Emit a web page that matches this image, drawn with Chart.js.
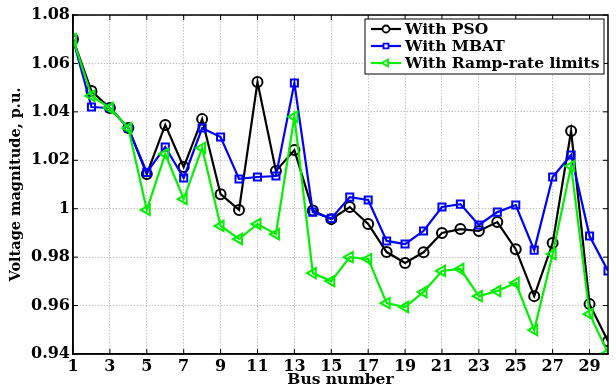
<!DOCTYPE html>
<html>
<head>
<meta charset="utf-8">
<script src="https://cdn.jsdelivr.net/npm/chart.js@4/dist/chart.umd.min.js"></script>
<style>
  html, body { margin: 0; padding: 0; background: #fff; }
  #wrap { width: 616px; height: 389px; }
</style>
</head>
<body>
<div id="wrap"><canvas id="voltChart"></canvas></div>
<script>
const buses = [1,2,3,4,5,6,7,8,9,10,11,12,13,14,15,16,17,18,19,20,21,22,23,24,25,26,27,28,29,30];
const psoVals = [1.070,1.0486,1.0416,1.0333,1.0143,1.0346,1.0172,1.0370,1.0060,0.9995,1.0523,1.0156,1.0242,0.9993,0.9957,1.0007,0.9937,0.9821,0.9776,0.9820,0.9900,0.9916,0.9908,0.9945,0.9833,0.9639,0.9858,1.0321,0.9606,0.9453];
const mbatVals = [1.070,1.0420,1.0416,1.0333,1.0150,1.0255,1.0127,1.0333,1.0296,1.0123,1.0131,1.0135,1.0519,0.9986,0.9960,1.0048,1.0036,0.9867,0.9854,0.9908,1.0007,1.0019,0.9933,0.9986,1.0015,0.9829,1.0131,1.0222,0.9887,0.9743];
const rampVals = [1.070,1.0466,1.0416,1.0333,0.9995,1.0226,1.0040,1.0251,0.9929,0.9875,0.9937,0.9895,1.0380,0.9734,0.9701,0.9800,0.9792,0.9610,0.9594,0.9656,0.9743,0.9751,0.9639,0.9660,0.9693,0.9499,0.9813,1.0176,0.9565,0.9404];
const xTicks = [1,3,5,7,9,11,13,15,17,19,21,23,25,27,29];
const seriesNames = ["With PSO", "With MBAT", "With Ramp-rate limits"];

const colors = ["#000000", "#0000ff", "#00f000"];
const shapes = ["circle", "rect", "triangle"];
const rotations = [0, 0, -90];
const serif = "'DejaVu Serif', serif";

function pts(vals) {
  return buses.map((b, i) => ({ x: b, y: vals[i] }));
}

function series(i, vals) {
  return {
    label: seriesNames[i],
    data: pts(vals),
    borderColor: colors[i],
    borderWidth: 2.2,
    pointStyle: shapes[i],
    pointRotation: rotations[i],
    pointRadius: i === 2 ? 6 : 5,
    pointBorderWidth: 2,
    pointBorderColor: colors[i],
    pointBackgroundColor: "rgba(255,255,255,0)",
    tension: 0,
    order: 2 - i
  };
}

// frame around plot, inner ticks on top/right, matlab style legend
const framePlugin = {
  id: "frame",
  afterDraw(chart) {
    const ctx = chart.ctx, ca = chart.chartArea;
    const xs = chart.scales.x, ys = chart.scales.y;
    ctx.save();
    ctx.strokeStyle = "#000";
    ctx.lineWidth = 1.5;
    ctx.strokeRect(ca.left, ca.top, ca.right - ca.left, ca.bottom - ca.top);
    ctx.lineWidth = 1;
    ctx.beginPath();
    xTicks.forEach(v => {
      const px = xs.getPixelForValue(v);
      ctx.moveTo(px, ca.top); ctx.lineTo(px, ca.top + 5);
      ctx.moveTo(px, ca.bottom); ctx.lineTo(px, ca.bottom - 5);
    });
    ys.ticks.forEach(t => {
      const py = ys.getPixelForValue(t.value);
      ctx.moveTo(ca.right, py); ctx.lineTo(ca.right - 5, py);
      ctx.moveTo(ca.left, py); ctx.lineTo(ca.left + 5, py);
    });
    ctx.stroke();

    const bw = 239, bh = 55;
    const bx = ca.right - bw - 4, by = ca.top + 4;
    ctx.fillStyle = "#fff";
    ctx.fillRect(bx, by, bw, bh);
    ctx.strokeStyle = "#000";
    ctx.lineWidth = 1;
    ctx.strokeRect(bx, by, bw, bh);
    ctx.font = "bold 15.5px " + serif;
    ctx.textBaseline = "middle";
    seriesNames.forEach((name, i) => {
      const y = by + 10 + i * 17;
      ctx.strokeStyle = colors[i];
      ctx.lineWidth = 2.2;
      ctx.beginPath();
      ctx.moveTo(bx + 6, y);
      ctx.lineTo(bx + 36, y);
      ctx.stroke();
      ctx.lineWidth = 1.8;
      ctx.fillStyle = "#fff";
      Chart.helpers.drawPoint(ctx, {
        pointStyle: shapes[i], rotation: rotations[i], radius: i === 2 ? 4 : 3.5, borderWidth: 1.8
      }, bx + 21, y);
      ctx.fillStyle = "#000";
      ctx.fillText(name, bx + 40, y + 1);
    });
    ctx.restore();
  }
};

new Chart(document.getElementById("voltChart"), {
  type: "line",
  data: {
    datasets: [series(0, psoVals), series(1, mbatVals), series(2, rampVals)]
  },
  options: {
    responsive: true,
    maintainAspectRatio: false,
    animation: false,
    layout: { padding: { top: 15, right: 4, left: 0, bottom: 0 } },
    plugins: { legend: { display: false }, tooltip: { enabled: false } },
    scales: {
      x: {
        type: "linear",
        min: 1,
        max: 30,
        afterBuildTicks: s => { s.ticks = xTicks.map(v => ({ value: v })); },
        afterFit: s => { s.height = 35; },
        grid: { color: "#c4c4c4", drawTicks: false },
        border: { display: true, color: "#000", width: 1.5, dash: [1.5, 1.5] },
        ticks: { color: "#000", padding: 3, maxRotation: 0, font: { family: serif, size: 16, weight: "bold" } },
        title: { display: true, text: "Bus number", color: "#000", padding: 0, font: { family: serif, size: 15.5, weight: "bold" } }
      },
      y: {
        min: 0.94,
        max: 1.08,
        afterFit: s => { s.width = 73; },
        grid: { color: "#c4c4c4", drawTicks: false },
        border: { display: true, color: "#000", width: 1.5, dash: [1.5, 1.5] },
        ticks: {
          stepSize: 0.02, color: "#000", padding: 3,
          font: { family: serif, size: 16, weight: "bold" },
          callback: v => { const r = Math.round(v * 100) / 100; return r === 1 ? "1" : r.toFixed(2); }
        },
        title: { display: true, text: "Voltage magnitude, p.u.", color: "#000", padding: { top: 8, bottom: 0 }, font: { family: serif, size: 14.5, weight: "bold" } }
      }
    }
  },
  plugins: [framePlugin]
});
</script>
</body>
</html>
